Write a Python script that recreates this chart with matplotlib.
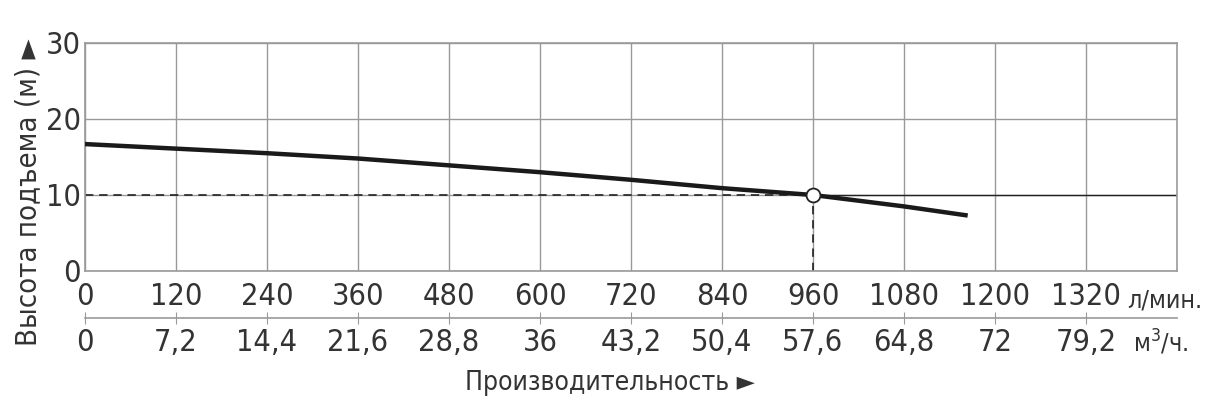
import numpy as np
import matplotlib.pyplot as plt
from matplotlib import font_manager

# pump curve
flow_lpm = [0, 120, 240, 360, 480, 600, 720, 840, 960, 1080, 1164]
head_m = [16.7, 16.1, 15.5, 14.8, 13.9, 13.0, 12.0, 10.9, 10.0, 8.5, 7.3]

duty_flow = 960
duty_head = 10

lpm_ticks = [0, 120, 240, 360, 480, 600, 720, 840, 960, 1080, 1200, 1320]
m3h_labels = ["0", "7,2", "14,4", "21,6", "28,8", "36", "43,2", "50,4", "57,6", "64,8", "72", "79,2"]
y_ticks = [0, 10, 20, 30]

plt.rcParams['font.family'] = ['DejaVu Sans']
plt.rcParams['font.stretch'] = 'condensed'
plt.rcParams['text.color'] = '#333333'
fp = font_manager.FontProperties(family='DejaVu Sans', stretch='condensed', size=22)

fig = plt.figure(figsize=(12.19, 4.05), dpi=100)
ax = fig.add_axes([85 / 1219, 134 / 405, 1092 / 1219, 228 / 405])

ax.set_xlim(0, 1440)
ax.set_ylim(0, 30)
ax.set_xticks(lpm_ticks)
ax.set_yticks(y_ticks)
ax.grid(True, color='#999999', lw=1.0)
for s in ax.spines.values():
    s.set_color('#999999')
    s.set_linewidth(1.2)
ax.tick_params(axis='both', length=0, colors='#333333', pad=3)
ax.tick_params(axis='x', pad=8)
for lab in ax.get_xticklabels() + ax.get_yticklabels():
    lab.set_fontproperties(fp)

# reference lines to the duty point
dash = (0, (5, 3.5))
ax.plot([0, duty_flow], [duty_head, duty_head], ls=dash, color='#222222', lw=1.2)
ax.plot([duty_flow, 1440], [duty_head, duty_head], color='#222222', lw=1.0)
ax.plot([duty_flow, duty_flow], [0, duty_head], ls=dash, color='#222222', lw=1.2)

ax.plot(flow_lpm, head_m, color='#1a1a1a', lw=3.2, solid_capstyle='butt', zorder=3)
ax.plot([duty_flow], [duty_head], 'o', ms=10, mfc='white', mec='#222222', mew=1.3, zorder=4)

# second scale in m3/h
sec = ax.secondary_xaxis(-0.206, functions=(lambda x: x * 0.06, lambda x: x / 0.06))
sec.set_xticks([v * 0.06 for v in lpm_ticks])
sec.set_xticklabels(m3h_labels)
sec.spines['bottom'].set_color('#999999')
sec.spines['bottom'].set_linewidth(1.2)
sec.tick_params(axis='x', direction='inout', length=8, color='#999999',
                labelcolor='#333333', pad=3)
for lab in sec.get_xticklabels():
    lab.set_fontproperties(fp)

small = font_manager.FontProperties(family='DejaVu Sans', stretch='condensed', size=18)
fig.text(1127 / 1219, 1 - 300 / 405, 'л/мин.', fontproperties=small, va='center', ha='left', color='#333333')
fig.text(1133 / 1219, 1 - 343 / 405, 'м$^3$/ч.', fontproperties=small, va='center', ha='left', color='#333333')

fig.text(610 / 1219, 1 - 383 / 405, 'Производительность ►',
         fontproperties=font_manager.FontProperties(family='DejaVu Sans', stretch='condensed', size=19),
         va='center', ha='center', color='#333333')
fig.text(28 / 1219, 1 - 192 / 405, 'Высота подъема (м) ►',
         fontproperties=font_manager.FontProperties(family='DejaVu Sans', stretch='condensed', size=21),
         va='center', ha='center', rotation=90, color='#333333')

fig.savefig('out.png', dpi=100, facecolor='white')
